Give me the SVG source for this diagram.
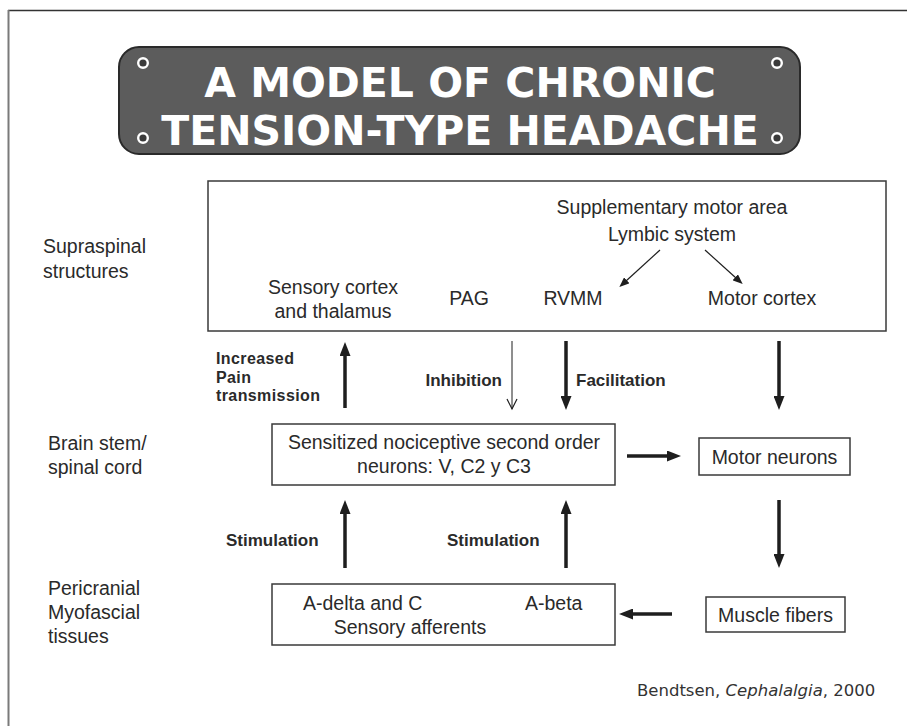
<svg xmlns="http://www.w3.org/2000/svg" width="907" height="726" viewBox="0 0 907 726">
<style>
.t{font-family:"Liberation Sans",Arial,sans-serif;font-size:19.5px;fill:#2a2a2a}
.m{text-anchor:middle}
.b{font-family:"Liberation Sans",Arial,sans-serif;font-size:17px;font-weight:bold;fill:#2a2a2a}
.bs{font-family:"Liberation Sans",Arial,sans-serif;font-size:16px;font-weight:bold;fill:#2a2a2a;letter-spacing:0.4px}
.box{fill:#fff;stroke:#3a3a3a;stroke-width:1.5}
.thick{stroke:#1e1e1e;stroke-width:3.5;fill:none}
.thin{stroke:#1e1e1e;stroke-width:1.2;fill:none}
.title{font-family:"DejaVu Sans",Verdana,sans-serif;font-weight:bold;font-size:41px;fill:#fff;text-anchor:middle}
.screw{fill:#3a3a3a;stroke:#fff;stroke-width:2.4}
</style>
<defs>
<marker id="ah" markerUnits="userSpaceOnUse" viewBox="0 0 14 11" markerWidth="14" markerHeight="11" refX="1" refY="5.5" orient="auto">
<path d="M0,0 L14,5.5 L0,11 z" fill="#1e1e1e"/>
</marker>
<marker id="ahs" markerUnits="userSpaceOnUse" viewBox="0 0 10 8" markerWidth="10" markerHeight="8" refX="1" refY="4" orient="auto">
<path d="M0,0 L10,4 L0,8 z" fill="#1e1e1e"/>
</marker>
</defs>
<rect width="907" height="726" fill="#fff"/>
<g id="frame">
<line x1="8" y1="10.5" x2="907" y2="10.5" stroke="#333" stroke-width="1.5"/>
<line x1="8.5" y1="10" x2="8.5" y2="726" stroke="#7a7a7a" stroke-width="2"/>
</g>
<g id="title">
<rect x="119" y="47" width="681" height="107" rx="20" fill="#5c5c5c" stroke="#2a2a2a" stroke-width="2"/>
<circle class="screw" cx="143" cy="63" r="4.8"/>
<circle class="screw" cx="777" cy="63" r="4.8"/>
<circle class="screw" cx="143" cy="138" r="4.8"/>
<circle class="screw" cx="777" cy="138" r="4.8"/>
<text class="title" x="460" y="97">A MODEL OF CHRONIC</text>
<text class="title" x="460" y="145">TENSION-TYPE HEADACHE</text>
</g>
<g id="level-labels">
<text class="t" x="43" y="253">Supraspinal</text>
<text class="t" x="43" y="278">structures</text>
<text class="t" x="48" y="450">Brain stem/</text>
<text class="t" x="48" y="474">spinal cord</text>
<text class="t" x="48" y="595">Pericranial</text>
<text class="t" x="48" y="619">Myofascial</text>
<text class="t" x="48" y="643">tissues</text>
</g>
<g id="supraspinal">
<rect class="box" x="208" y="181" width="678" height="150"/>
<text class="t m" x="672" y="214">Supplementary motor area</text>
<text class="t m" x="672" y="241">Lymbic system</text>
<text class="t m" x="333" y="294">Sensory cortex</text>
<text class="t m" x="333" y="318">and thalamus</text>
<text class="t m" x="469" y="305">PAG</text>
<text class="t m" x="573" y="305">RVMM</text>
<text class="t m" x="762" y="305">Motor cortex</text>
</g>
<g id="sensitized">
<rect class="box" x="272" y="424" width="343" height="61"/>
<text class="t m" x="444" y="449">Sensitized nociceptive second order</text>
<text class="t m" x="444" y="473">neurons: V, C2 y C3</text>
</g>
<g id="motor-neurons">
<rect class="box" x="699" y="438" width="151" height="37"/>
<text class="t m" x="774.5" y="464">Motor neurons</text>
</g>
<g id="muscle-fibers">
<rect class="box" x="706" y="597" width="139" height="35"/>
<text class="t m" x="775.5" y="622">Muscle fibers</text>
</g>
<g id="afferents">
<rect class="box" x="272" y="584" width="343" height="61"/>
<text class="t" x="303" y="610">A-delta and C</text>
<text class="t" x="525" y="610">A-beta</text>
<text class="t m" x="410" y="634">Sensory afferents</text>
</g>
<g id="connectors">
<line class="thin" x1="660" y1="250" x2="626" y2="281" marker-end="url(#ahs)"/>
<line class="thin" x1="705" y1="250" x2="736" y2="278" marker-end="url(#ahs)"/>
<line class="thick" x1="345" y1="408" x2="345" y2="355" marker-end="url(#ah)"/>
<line stroke="#1e1e1e" stroke-width="1" x1="512" y1="341" x2="512" y2="409"/>
<polyline class="thin" stroke-width="1" points="507,399 512,409 517,399"/>
<line class="thick" x1="566" y1="341" x2="566" y2="397" marker-end="url(#ah)"/>
<line class="thick" x1="779" y1="341" x2="779" y2="397" marker-end="url(#ah)"/>
<line class="thick" x1="627" y1="456" x2="668" y2="456" marker-end="url(#ah)"/>
<line class="thick" x1="779" y1="500" x2="779" y2="555" marker-end="url(#ah)"/>
<line class="thick" x1="672" y1="614" x2="632" y2="614" marker-end="url(#ah)"/>
<line class="thick" x1="345" y1="568" x2="345" y2="513" marker-end="url(#ah)"/>
<line class="thick" x1="566" y1="568" x2="566" y2="513" marker-end="url(#ah)"/>
</g>
<g id="connector-labels">
<text class="bs" x="216" y="364">Increased</text>
<text class="bs" x="216" y="382.5">Pain</text>
<text class="bs" x="216" y="401">transmission</text>
<text class="b" x="502" y="386" text-anchor="end">Inhibition</text>
<text class="b" x="576" y="386">Facilitation</text>
<text class="b" x="226" y="546">Stimulation</text>
<text class="b" x="447" y="546">Stimulation</text>
</g>
<text x="637" y="696" font-family="'DejaVu Sans',Verdana,sans-serif" font-size="16.5" fill="#333">Bendtsen, <tspan font-style="italic">Cephalalgia</tspan>, 2000</text>
</svg>
